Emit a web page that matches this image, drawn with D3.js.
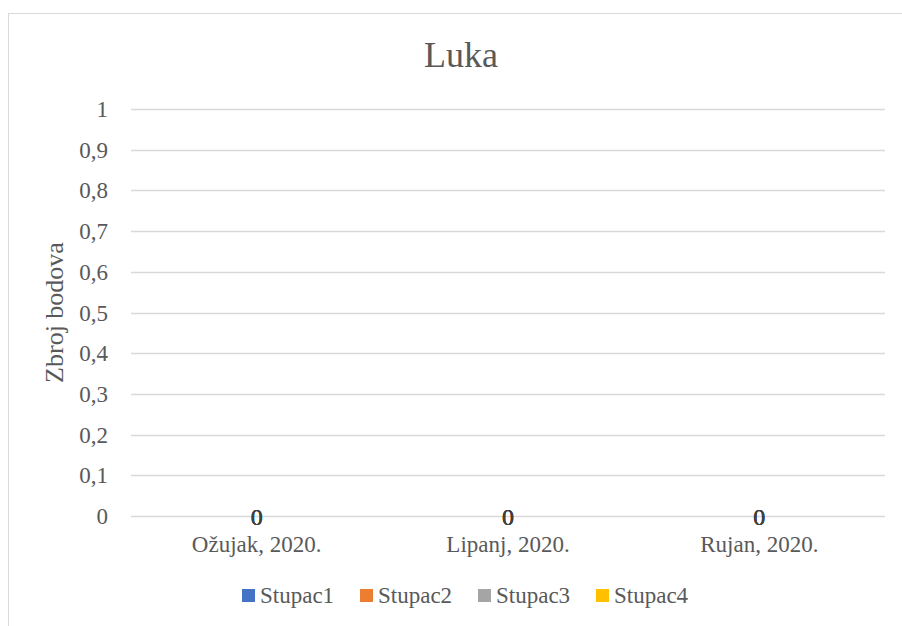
<!DOCTYPE html>
<html>
<head>
<meta charset="utf-8">
<script src="https://cdn.jsdelivr.net/npm/d3@7"></script>
<style>
  body { margin: 0; background: #fff; }
  text { font-family: "Liberation Serif", "Times New Roman", serif; }
</style>
</head>
<body>
<script>
var categories = ["Ožujak, 2020.", "Lipanj, 2020.", "Rujan, 2020."];
var seriesNames = ["Stupac1", "Stupac2", "Stupac3", "Stupac4"];
var seriesColors = ["#4472c4", "#ed7d31", "#a5a5a5", "#ffc000"];
var stupac1 = [0, 0, 0];
var stupac2 = [0, 0, 0];
var stupac3 = [0, 0, 0];
var stupac4 = [0, 0, 0];
var yTicks = [0, 0.1, 0.2, 0.3, 0.4, 0.5, 0.6, 0.7, 0.8, 0.9, 1];

var w = 902, h = 626;
var plotLeft = 131, plotRight = 885, plotTop = 109, plotBottom = 516;

var svg = d3.select("body")
            .append("svg")
            .attr("width", w)
            .attr("height", h);

// chart frame (right and bottom edge fall outside the window)
svg.append("rect")
    .attr("x", 8.5)
    .attr("y", 13.5)
    .attr("width", w + 20)
    .attr("height", h + 20)
    .attr("fill", "none")
    .attr("stroke", "#d9d9d9")
    .attr("stroke-width", 1);

var x = d3.scaleBand().domain(categories).range([plotLeft, plotRight]);
var y = d3.scaleLinear().domain([0, 1]).range([plotBottom, plotTop]);
var fmt = function(d) { return String(+d.toFixed(1)).replace(".", ","); };

// gridlines
svg.selectAll(".grid")
    .data(yTicks)
    .enter()
    .append("line")
    .attr("x1", plotLeft)
    .attr("x2", plotRight)
    .attr("y1", function(d) { return Math.round(y(d)) + 0.5; })
    .attr("y2", function(d) { return Math.round(y(d)) + 0.5; })
    .attr("stroke", "#d9d9d9")
    .attr("stroke-width", 1.3);

// y tick labels
svg.selectAll(".ylab")
    .data(yTicks)
    .enter()
    .append("text")
    .attr("x", 108)
    .attr("y", function(d) { return y(d) + 8; })
    .attr("text-anchor", "end")
    .attr("font-size", 23)
    .attr("fill", "#595959")
    .text(fmt);

// category labels
svg.selectAll(".xlab")
    .data(categories)
    .enter()
    .append("text")
    .attr("x", function(d) { return x(d) + x.bandwidth() / 2; })
    .attr("y", 552)
    .attr("text-anchor", "middle")
    .attr("font-size", 23)
    .attr("fill", "#595959")
    .text(function(d) { return d; });

// bars + labels (all values zero, 100% overlap so labels stack)
var allSeries = [stupac1, stupac2, stupac3, stupac4];
allSeries.forEach(function(vals, si) {
    var g = svg.append("g");
    g.selectAll("rect")
        .data(vals)
        .enter()
        .append("rect")
        .attr("x", function(d, i) { return x(categories[i]) + x.bandwidth() / 2 - 20; })
        .attr("width", 40)
        .attr("y", function(d) { return y(d); })
        .attr("height", function(d) { return y(0) - y(d); })
        .attr("fill", seriesColors[si]);
    g.selectAll("text")
        .data(vals)
        .enter()
        .append("text")
        .attr("x", function(d, i) { return x(categories[i]) + x.bandwidth() / 2; })
        .attr("y", function(d) { return y(d) + 9; })
        .attr("text-anchor", "middle")
        .attr("font-size", 24)
        .attr("fill", "#404040")
        .text(function(d) { return String(d).replace(".", ","); });
});

// title
svg.append("text")
    .attr("x", 461)
    .attr("y", 67)
    .attr("text-anchor", "middle")
    .attr("font-size", 36)
    .attr("fill", "#595959")
    .text("Luka");

// y axis title
svg.append("text")
    .attr("transform", "translate(63," + ((plotTop + plotBottom) / 2) + ") rotate(-90)")
    .attr("text-anchor", "middle")
    .attr("font-size", 26)
    .attr("fill", "#595959")
    .text("Zbroj bodova");

// legend
var legend = svg.selectAll(".leg")
    .data(seriesNames)
    .enter()
    .append("g")
    .attr("transform", function(d, i) { return "translate(" + (242 + i * 118) + ",589)"; });
legend.append("rect")
    .attr("width", 13)
    .attr("height", 13)
    .attr("fill", function(d, i) { return seriesColors[i]; });
legend.append("text")
    .attr("x", 18)
    .attr("y", 14)
    .attr("font-size", 23)
    .attr("fill", "#595959")
    .text(function(d) { return d; });
</script>
</body>
</html>
